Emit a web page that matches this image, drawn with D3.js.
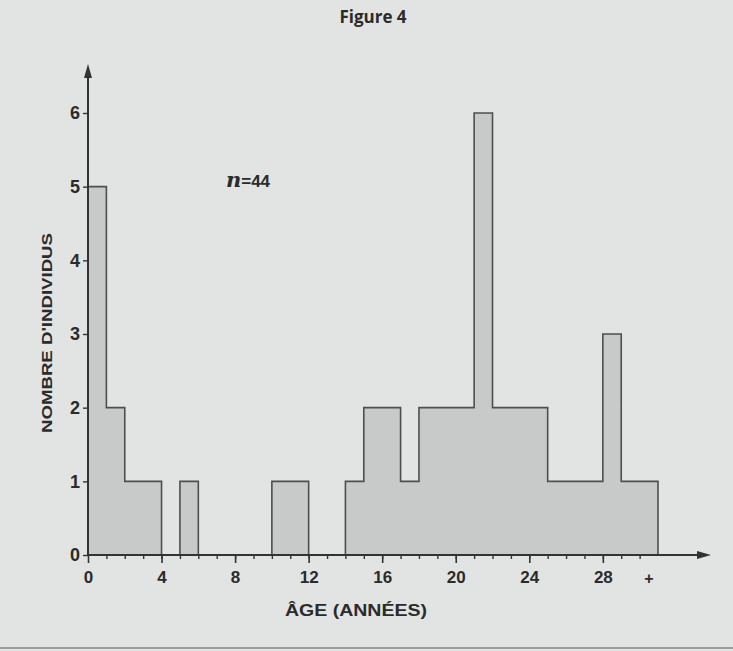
<!DOCTYPE html>
<html>
<head>
<meta charset="utf-8">
<script src="https://cdn.jsdelivr.net/npm/d3@7"></script>
<style>
  body { margin: 0; background: #e2e4e3; }
  svg text { fill: #2b2b2b; }
</style>
</head>
<body>
<div id="chart"></div>
<script>
// Histogram data: 1-year age bins, last bin is "+" (30 and over)
const binStarts = d3.range(0, 31);
const counts = [5, 2, 1, 1, 0, 1, 0, 0, 0, 0, 1, 1, 0, 0, 1, 2, 2, 1, 2, 2, 2, 6, 2, 2, 2, 1, 1, 1, 3, 1, 1];
const xTickValues = [0, 4, 8, 12, 16, 20, 24, 28];
const xExtraLabel = { value: 30.5, label: "+" };
const yTickValues = [0, 1, 2, 3, 4, 5, 6];
const sampleLabel = "=44";

const width = 733, height = 651;

const svg = d3.select("#chart")
    .append("svg")
    .attr("width", width)
    .attr("height", height);

svg.append("rect")
    .attr("width", width)
    .attr("height", height)
    .attr("fill", "#e2e4e3");

// Scales (fit to the printed figure)
const xScale = d3.scaleLinear()
    .domain([0, 31])
    .range([88, 658]);

const yScale = d3.scaleLinear()
    .domain([0, 6])
    .range([555, 113]);

// Split bins into contiguous runs of non-zero counts
const runs = [];
let current = null;
binStarts.forEach((b, i) => {
    if (counts[i] > 0) {
        if (!current) { current = []; runs.push(current); }
        current.push({ x: b, c: counts[i] });
    } else {
        current = null;
    }
});
runs.forEach(r => {
    const last = r[r.length - 1];
    r.push({ x: last.x + 1, c: last.c });
});

const area = d3.area()
    .curve(d3.curveStepAfter)
    .x(d => xScale(d.x))
    .y0(yScale(0))
    .y1(d => yScale(d.c));

svg.append("g")
    .selectAll("path")
    .data(runs)
    .enter()
    .append("path")
    .attr("d", area)
    .attr("fill", "#c7cac9")
    .attr("stroke", "#4d4f4f")
    .attr("stroke-width", 1.6);

// X axis: minor ticks each year, major ticks every 4
const axisColor = "#333";

svg.append("g")
    .attr("transform", `translate(0,${yScale(0)})`)
    .call(d3.axisBottom(xScale).tickValues(d3.range(1, 31)).tickSize(4).tickFormat(""))
    .call(g => g.select(".domain").remove())
    .call(g => g.selectAll("line").attr("stroke", axisColor).attr("stroke-width", 1.4));

const xAxis = svg.append("g")
    .attr("transform", `translate(0,${yScale(0)})`)
    .call(d3.axisBottom(xScale).tickValues(xTickValues).tickSize(8).tickPadding(8).tickFormat(d3.format("d")))
    .call(g => g.select(".domain").remove());

xAxis.selectAll("line").attr("stroke", axisColor).attr("stroke-width", 1.6);
xAxis.selectAll("text")
    .attr("font-family", "Liberation Sans, Arial, sans-serif")
    .attr("font-weight", "bold")
    .attr("font-size", 17)
    .attr("fill", "#2b2b2b");

svg.append("text")
    .attr("x", xScale(xExtraLabel.value))
    .attr("y", yScale(0) + 29)
    .attr("text-anchor", "middle")
    .attr("font-family", "Liberation Sans, Arial, sans-serif")
    .attr("font-weight", "bold")
    .attr("font-size", 16)
    .text(xExtraLabel.label);

// Y axis
const yAxis = svg.append("g")
    .attr("transform", `translate(${xScale(0)},0)`)
    .call(d3.axisLeft(yScale).tickValues(yTickValues).tickSize(5).tickPadding(3).tickFormat(d3.format("d")))
    .call(g => g.select(".domain").remove());

yAxis.selectAll("line").attr("stroke", axisColor).attr("stroke-width", 1.4);
yAxis.selectAll("text")
    .attr("font-family", "Liberation Sans, Arial, sans-serif")
    .attr("font-weight", "bold")
    .attr("font-size", 18)
    .attr("fill", "#2b2b2b");

// Axis lines with arrows
svg.append("line")
    .attr("x1", xScale(0)).attr("x2", xScale(0))
    .attr("y1", yScale(0)).attr("y2", 72)
    .attr("stroke", axisColor).attr("stroke-width", 2);

svg.append("path")
    .attr("d", `M${xScale(0)},64 L${xScale(0) - 4},78 L${xScale(0) + 4},78 Z`)
    .attr("fill", axisColor);

svg.append("line")
    .attr("x1", xScale(0)).attr("x2", 702)
    .attr("y1", yScale(0)).attr("y2", yScale(0))
    .attr("stroke", axisColor).attr("stroke-width", 2);

svg.append("path")
    .attr("d", `M711,${yScale(0)} L697,${yScale(0) - 4} L697,${yScale(0) + 4} Z`)
    .attr("fill", axisColor);

// Titles
svg.append("text")
    .attr("x", 373)
    .attr("y", 23)
    .attr("text-anchor", "middle")
    .attr("font-family", "Open Sans, sans-serif")
    .attr("font-weight", "bold")
    .attr("font-size", 17)
    .attr("fill", "#222")
    .text("Figure 4");

svg.append("text")
    .attr("x", 356)
    .attr("y", 616)
    .attr("text-anchor", "middle")
    .attr("font-family", "Liberation Sans, Arial, sans-serif")
    .attr("font-weight", "bold")
    .attr("font-size", 16)
    .attr("textLength", 142)
    .attr("lengthAdjust", "spacingAndGlyphs")
    .text("ÂGE (ANNÉES)");

svg.append("text")
    .attr("transform", "translate(52,333) rotate(-90)")
    .attr("text-anchor", "middle")
    .attr("font-family", "Liberation Sans, Arial, sans-serif")
    .attr("font-weight", "bold")
    .attr("font-size", 15)
    .attr("textLength", 200)
    .attr("lengthAdjust", "spacingAndGlyphs")
    .text("NOMBRE D'INDIVIDUS");

// Sample size annotation
const nLabel = svg.append("text")
    .attr("x", 248)
    .attr("y", 187)
    .attr("text-anchor", "middle")
    .attr("font-weight", "bold");

nLabel.append("tspan")
    .attr("font-family", "DejaVu Serif, serif")
    .attr("font-style", "italic")
    .attr("font-size", 21)
    .text("n");

nLabel.append("tspan")
    .attr("font-family", "Liberation Sans, Arial, sans-serif")
    .attr("font-size", 17)
    .text(sampleLabel);

// Page edge line at the bottom
svg.append("line")
    .attr("x1", 0).attr("x2", width)
    .attr("y1", 648).attr("y2", 648)
    .attr("stroke", "#9a9c9c")
    .attr("stroke-width", 2);
</script>
</body>
</html>
